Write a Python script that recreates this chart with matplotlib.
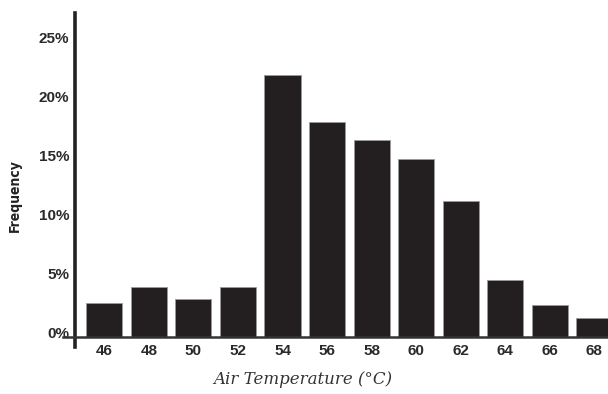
import numpy as np
import matplotlib.pyplot as plt

# temperature bins and share of readings in each
temps = ['46', '48', '50', '52', '54', '56', '58', '60', '62', '64', '66', '68']
freq = [2.5, 3.8, 2.8, 3.8, 21.8, 17.8, 16.3, 14.7, 11.1, 4.4, 2.3, 1.2]
yticks = [0, 5, 10, 15, 20, 25]

base = -0.42  # where the axis line sits

fig = plt.figure(figsize=(6.08, 3.94), dpi=100)
W, H = 608.0, 394.0
# axes box in pixels: left 63, right 608, top 13, bottom 347
ax = fig.add_axes([63 / W, 1 - 347 / H, (608 - 63) / W, (347 - 13) / H])

x = np.arange(len(temps))
heights = np.array(freq) - base
ax.bar(x, heights, bottom=base, width=0.81, color='#231f20',
       edgecolor='#9a9a9a', linewidth=0.6)

ax.set_xlim(-0.93, 11.31)
ax.set_ylim(-1.27, 27.1)

for s in ['top', 'right']:
    ax.spines[s].set_visible(False)
ax.spines['left'].set_position(('data', -0.663))
ax.spines['left'].set_linewidth(2.6)
ax.spines['left'].set_color('#222222')
ax.spines['bottom'].set_position(('data', base))
ax.spines['bottom'].set_linewidth(1.8)
ax.spines['bottom'].set_color('#333333')

ax.set_xticks(x)
ax.set_xticklabels(temps)
ax.set_yticks(yticks)
ax.set_yticklabels([f'{v}%' for v in yticks])
ax.tick_params(axis='both', length=0, labelsize=11, colors='#2a2a2a')
ax.tick_params(axis='x', pad=5)
ax.tick_params(axis='y', pad=4)
for lab in ax.get_xticklabels() + ax.get_yticklabels():
    lab.set_fontweight('bold')
    lab.set_family('Liberation Sans')

fig.text(303 / W, 1 - 380 / H, 'Air Temperature (°C)', ha='center', va='center',
         fontsize=12, style='italic', family='DejaVu Serif', color='#333333')
fig.text(15 / W, 1 - 196 / H, 'Frequency', ha='center', va='center',
         rotation=90, fontsize=10, fontweight='bold', fontstretch='condensed',
         family='Liberation Sans Narrow', color='#222222')

fig.savefig('out.png', dpi=100)
